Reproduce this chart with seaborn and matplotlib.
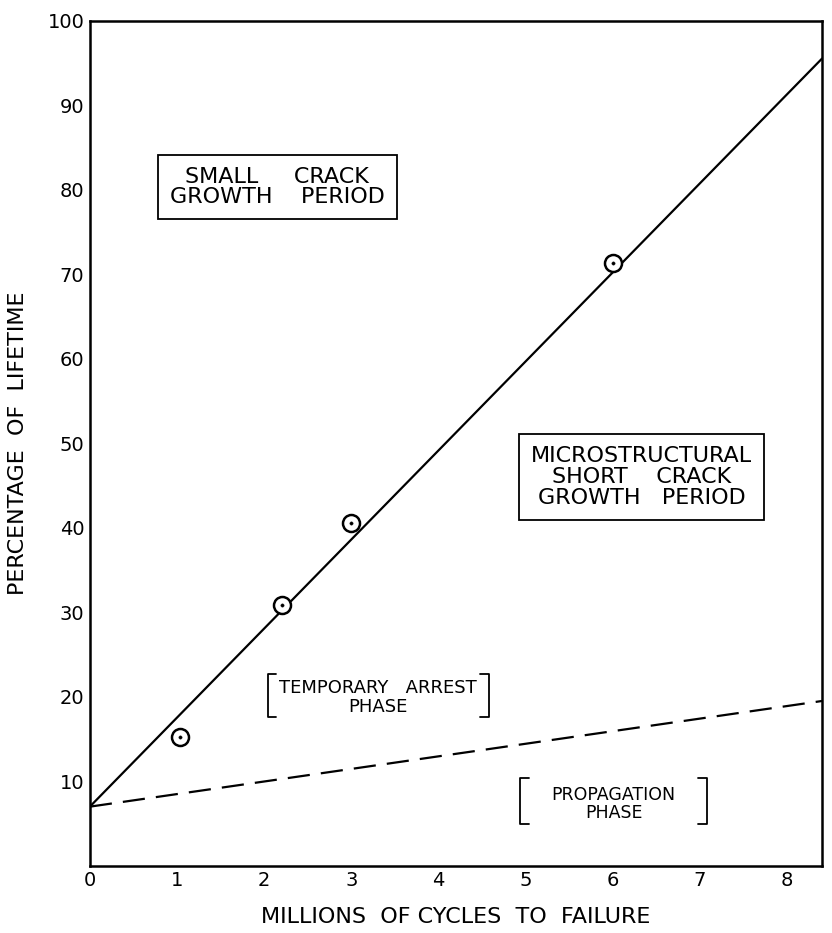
# Percentage of lifetime vs millions of cycles to failure
import numpy as np
import pandas as pd
import matplotlib
matplotlib.use("Agg")
import matplotlib.pyplot as plt
import seaborn as sns

# Dados
cycles = [1.03, 2.2, 3.0, 6.0]          # milhoes de ciclos
lifetime = [15.2, 30.8, 40.5, 71.3]     # percentagem da vida

line_x = [0.0, 8.4]
short_crack_y = [7.0, 95.5]             # linha cheia
propagation_y = [7.0, 19.5]             # linha tracejada

x_ticks = [0, 1, 2, 3, 4, 5, 6, 7, 8]
y_ticks = [10, 20, 30, 40, 50, 60, 70, 80, 90, 100]

sns.set_style("white")
plt.rcParams["font.family"] = ["DejaVu Sans"]
plt.rcParams["text.color"] = "black"
plt.rcParams["axes.labelcolor"] = "black"
plt.rcParams["xtick.color"] = "black"
plt.rcParams["ytick.color"] = "black"

fig = plt.figure(figsize=(8.32, 9.33), dpi=100)
ax = fig.add_axes([0.108, 0.072, 0.88, 0.906])

df_pts = pd.DataFrame({"x": cycles, "y": lifetime})
df_lines = pd.DataFrame({"x": line_x, "solid": short_crack_y, "dash": propagation_y})

sns.lineplot(data=df_lines, x="x", y="solid", ax=ax, color="black", linewidth=1.6)
sns.lineplot(data=df_lines, x="x", y="dash", ax=ax, color="black", linewidth=1.6,
             dashes=False, linestyle=(0, (10, 5)))
sns.scatterplot(data=df_pts, x="x", y="y", ax=ax, s=150, facecolor="white",
                edgecolor="black", linewidth=1.8, zorder=5)
sns.scatterplot(data=df_pts, x="x", y="y", ax=ax, s=6, color="black",
                edgecolor="black", zorder=6)

ax.set_xlim(0, 8.4)
ax.set_ylim(0, 100)
ax.set_xticks(x_ticks)
ax.set_xticklabels([str(t) for t in x_ticks])
ax.set_yticks(y_ticks)
ax.set_yticklabels([str(t) for t in y_ticks])
ax.tick_params(direction="in", length=7, width=1.5, labelsize=14, pad=4)
for s in ax.spines.values():
    s.set_linewidth(1.8)
    s.set_color("black")

ax.set_xlabel("MILLIONS  OF CYCLES  TO  FAILURE", fontsize=16, labelpad=12)
ax.set_ylabel("PERCENTAGE  OF  LIFETIME", fontsize=16, labelpad=14)

# Caixas de texto
box = dict(boxstyle="square,pad=0.55", facecolor="white", edgecolor="black", linewidth=1.3)
ax.text(2.15, 80.3, "SMALL     CRACK\nGROWTH    PERIOD", fontsize=16, ha="center",
        va="center", bbox=box, linespacing=1.0)
ax.text(6.33, 46.0, "MICROSTRUCTURAL\nSHORT    CRACK\nGROWTH   PERIOD", fontsize=16,
        ha="center", va="center", bbox=box, linespacing=1.05)

# Colchetes
def bracket(x0, x1, y0, y1, w=0.1):
    kw = dict(color="black", linewidth=1.3)
    ax.plot([x0 + w, x0, x0, x0 + w], [y1, y1, y0, y0], **kw)
    ax.plot([x1 - w, x1, x1, x1 - w], [y1, y1, y0, y0], **kw)

bracket(2.04, 4.58, 17.6, 22.7)
ax.text(3.31, 21.0, "TEMPORARY   ARREST", fontsize=13, ha="center", va="center")
ax.text(3.31, 18.8, "PHASE", fontsize=13, ha="center", va="center")

bracket(4.94, 7.08, 4.9, 10.4)
ax.text(6.01, 8.4, "PROPAGATION", fontsize=12.5, ha="center", va="center")
ax.text(6.01, 6.3, "PHASE", fontsize=12.5, ha="center", va="center")

fig.savefig("out.png", dpi=100)
